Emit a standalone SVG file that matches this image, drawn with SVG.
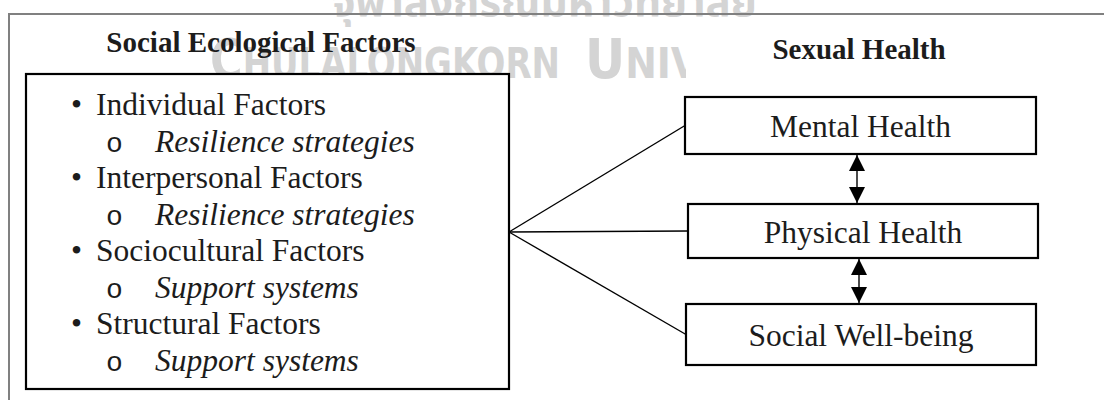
<svg xmlns="http://www.w3.org/2000/svg" width="1104" height="400" viewBox="0 0 1104 400">
<style>
.t{font-family:"Liberation Serif","Times New Roman",serif;fill:#1c1c1c}
.body{font-size:31.5px}
.it{font-style:italic}
.mono{font-family:"Liberation Mono","Courier New",monospace;font-size:28px;fill:#1c1c1c}
.title{font-size:29px;font-weight:bold}
.box{fill:#fff;stroke:#000;stroke-width:2.2}
.conn{stroke:#000;stroke-width:1.4;fill:none}
.wm{fill:#d4d4d4;font-family:"DejaVu Sans Condensed","DejaVu Sans",sans-serif;font-weight:bold}
.wmth{fill:#d4d4d4;font-family:"Noto Sans Thai","Noto Sans","DejaVu Sans",sans-serif;font-weight:bold;font-size:40px}
.frame{stroke:#808080;stroke-width:2;fill:none}
</style>
<defs>
<marker id="ah" viewBox="0 0 16 16" refX="16" refY="8" markerWidth="16" markerHeight="16" markerUnits="userSpaceOnUse" orient="auto-start-reverse"><path d="M0,0 L16,8 L0,16 z" fill="#000"/></marker>
<clipPath id="wmclip"><rect x="0" y="0" width="686" height="400"/></clipPath>
</defs>
<g id="watermark">
<text class="wmth" x="332" y="16" textLength="425" lengthAdjust="spacingAndGlyphs">จุฬาลงกรณ์มหาวิทยาลัย</text>
<g clip-path="url(#wmclip)">
<text class="wm" x="210" y="78" textLength="350" lengthAdjust="spacingAndGlyphs"><tspan font-size="55">C</tspan><tspan font-size="42">HULALONGKORN</tspan></text>
<text class="wm" x="585" y="78" font-size="42"><tspan font-size="55">U</tspan>NIVERSITY</text>
</g>
</g>
<g id="frame"><path class="frame" d="M9,400 V14 H1104"/></g>
<g id="titles">
<text class="t title" x="261" y="52" text-anchor="middle">Social Ecological Factors</text>
<text class="t title" x="859" y="59" text-anchor="middle">Sexual Health</text>
</g>
<g id="connectors">
<line class="conn" x1="509" y1="232" x2="685" y2="125.5"/>
<line class="conn" x1="509" y1="232" x2="688" y2="231"/>
<line class="conn" x1="509" y1="232" x2="686" y2="334.5"/>
<line class="conn" x1="857" y1="155" x2="857" y2="203" marker-start="url(#ah)" marker-end="url(#ah)"/>
<line class="conn" x1="859" y1="259" x2="859" y2="303" marker-start="url(#ah)" marker-end="url(#ah)"/>
</g>
<g id="ecological-factors">
<rect class="box" x="26" y="74" width="483" height="315"/>
<text class="t body" x="71" y="115">•</text><text class="t body" x="96" y="115">Individual Factors</text>
<text class="mono" x="106" y="151.5">o</text><text class="t body it" x="155" y="151.5">Resilience strategies</text>
<text class="t body" x="71" y="188">•</text><text class="t body" x="96" y="188">Interpersonal Factors</text>
<text class="mono" x="106" y="224.5">o</text><text class="t body it" x="155" y="224.5">Resilience strategies</text>
<text class="t body" x="71" y="261">•</text><text class="t body" x="96" y="261">Sociocultural Factors</text>
<text class="mono" x="106" y="297.5">o</text><text class="t body it" x="155" y="297.5">Support systems</text>
<text class="t body" x="71" y="334">•</text><text class="t body" x="96" y="334">Structural Factors</text>
<text class="mono" x="106" y="370.5">o</text><text class="t body it" x="155" y="370.5">Support systems</text>
</g>
<g id="mental-health">
<rect class="box" x="685" y="97" width="351" height="57"/>
<text class="t body" x="860.5" y="137" text-anchor="middle">Mental Health</text>
</g>
<g id="physical-health">
<rect class="box" x="688" y="204" width="350" height="54"/>
<text class="t body" x="863" y="243" text-anchor="middle">Physical Health</text>
</g>
<g id="social-well-being">
<rect class="box" x="686" y="304" width="350" height="61"/>
<text class="t body" x="861" y="345.5" text-anchor="middle">Social Well-being</text>
</g>
</svg>
